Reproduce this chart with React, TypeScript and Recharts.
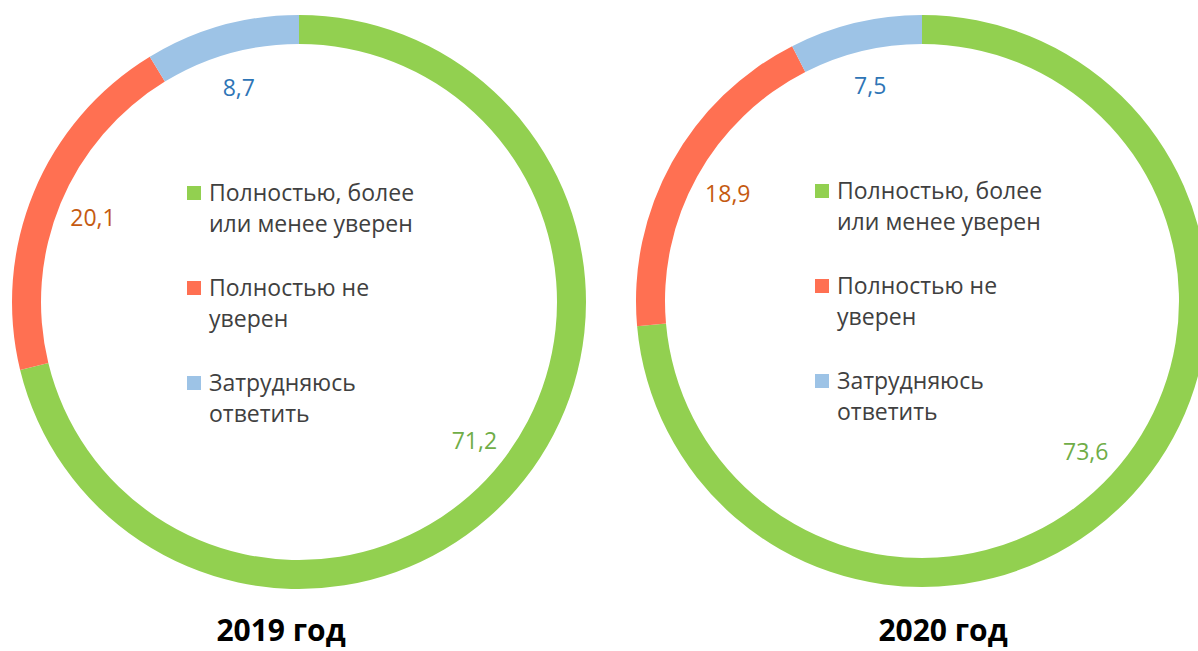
import React from 'react';
import { PieChart, Pie, Cell, Legend } from 'recharts';

const categories = ['Полностью, более\nили менее уверен', 'Полностью не\nуверен', 'Затрудняюсь\nответить'];
const values2019 = [71.2, 20.1, 8.7];
const values2020 = [73.6, 18.9, 7.5];
const years = ['2019 год', '2020 год'];
const sliceColors = ['#92D050', '#FF7052', '#9DC3E6'];
const labelColors = ['#70AD47', '#C55A11', '#2E75B6'];

const FONT = '"Open Sans", "Noto Sans", sans-serif';
const RADIAN = Math.PI / 180;

const build = (vals: number[]) => categories.map((name, i) => ({ name, value: vals[i] }));

const renderLabel = (props: any) => {
  const { cx, cy, midAngle, innerRadius, value, index } = props;
  const r = innerRadius - 35;
  const x = cx + r * Math.cos(-midAngle * RADIAN);
  const y = cy + r * Math.sin(-midAngle * RADIAN);
  return (
    <text x={x} y={y} fill={labelColors[index]} textAnchor="middle" dominantBaseline="central"
      style={{ fontFamily: FONT, fontSize: 23 }}>
      {Number(value).toFixed(1).replace('.', ',')}
    </text>
  );
};

const renderLegend = (props: any) => {
  const items = [...(props.payload || [])].sort(
    (a: any, b: any) => categories.indexOf(String(a.value)) - categories.indexOf(String(b.value))
  );
  return (
    <div style={{ fontFamily: FONT, fontSize: 23, color: '#404040', lineHeight: '31px' }}>
      {items.map((e: any, i: number) => (
        <div key={i} style={{ display: 'flex', marginBottom: 33, whiteSpace: 'nowrap' }}>
          <div style={{ width: 14, height: 14, background: e.color, marginTop: 9, marginRight: 8, flexShrink: 0 }} />
          <div>{String(e.value).split('\n').map((l: string, j: number) => <div key={j}>{l}</div>)}</div>
        </div>
      ))}
    </div>
  );
};

type DonutProps = { vals: number[]; left: number; width: number; cx: number; cy: number; outer: number; inner: number; legendLeft: number; legendTop: number; title: string; titleCenter: number };

const Donut = ({ vals, left, width, cx, cy, outer, inner, legendLeft, legendTop, title, titleCenter }: DonutProps) => (
  <div style={{ position: 'absolute', left, top: 0, width, height: 651 }}>
    <PieChart width={width} height={651} margin={{ top: 0, left: 0, right: 0, bottom: 0 }}>
      <Pie data={build(vals)} dataKey="value" nameKey="name" cx={cx} cy={cy}
        outerRadius={outer} innerRadius={inner} startAngle={90} endAngle={-270}
        stroke="none" label={renderLabel} labelLine={false} isAnimationActive={false}>
        {vals.map((_, i) => <Cell key={i} fill={sliceColors[i]} />)}
      </Pie>
      <Legend content={renderLegend} wrapperStyle={{ left: legendLeft, top: legendTop, width: 'auto', bottom: 'auto' }} />
    </PieChart>
    <div style={{ position: 'absolute', left: titleCenter - 150, width: 300, top: 615, textAlign: 'center',
      fontFamily: FONT, fontWeight: 700, fontSize: 30, lineHeight: '30px', color: '#000' }}>{title}</div>
  </div>
);

export default function App() {
  return (
    <div style={{ position: 'fixed', left: 0, top: 0, width: 1198, height: 651, overflow: 'hidden', background: '#fff' }}>
      <Donut vals={values2019} left={0} width={600} cx={299} cy={302} outer={287} inner={258}
        legendLeft={187} legendTop={177} title={years[0]} titleCenter={281} />
      <Donut vals={values2020} left={600} width={620} cx={322} cy={301} outer={286} inner={257}
        legendLeft={215} legendTop={175} title={years[1]} titleCenter={343} />
    </div>
  );
}
